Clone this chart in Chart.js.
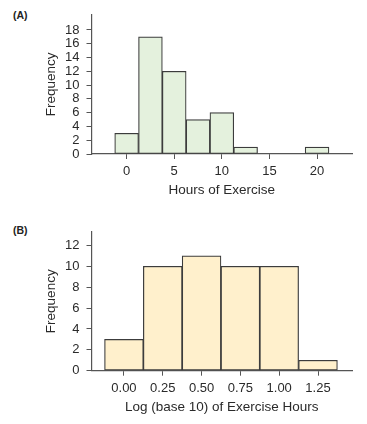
<!DOCTYPE html>
<html>
<head>
<meta charset="utf-8">
<script src="https://cdn.jsdelivr.net/npm/chart.js@4"></script>
<style>
    body { margin: 0; background: #fff; width: 367px; height: 424px; position: relative; overflow: hidden; font-family: 'Liberation Sans', Arial, sans-serif; }
    canvas { position: absolute; left: 0; }
    .tag { position: absolute; left: 13px; font-weight: bold; font-size: 10.5px; color: #222; }
</style>
</head>
<body>
<div class="tag" style="top: 9px">(A)</div>
<canvas id="chartA" width="367" height="212" style="top: 0"></canvas>
<div class="tag" style="top: 224px">(B)</div>
<canvas id="chartB" width="367" height="207" style="top: 217px"></canvas>
<script>
const hours_bins = [0, 2.5, 5, 7.5, 10, 12.5, 15, 17.5, 20];
const hours_freq = [3, 17, 12, 5, 6, 1, 0, 0, 1];
const hours_ticks = [0, 5, 10, 15, 20];
const hours_freq_ticks = [0, 2, 4, 6, 8, 10, 12, 14, 16, 18];

const log_bins = [0, 0.25, 0.5, 0.75, 1, 1.25];
const log_freq = [3, 10, 11, 10, 10, 1];
const log_ticks = [0, 0.25, 0.5, 0.75, 1, 1.25];
const log_freq_ticks = [0, 2, 4, 6, 8, 10, 12];

const axis_color = '#555';
const text_color = '#2a2a2a';
const font_family = "'Liberation Sans', Arial, sans-serif";

setHistogram('chartA', {
    bins: hours_bins, freq: hours_freq, xTicks: hours_ticks, yTicks: hours_freq_ticks,
    xLabel: v => String(v),
    xMin: -3.69, xMax: 23.67, yMax: 20.2,
    fill: '#e4f1dd', title: 'Hours of Exercise',
    top: 8, height: 212, bottom: 154, titleY: 190.7
});

setHistogram('chartB', {
    bins: log_bins, freq: log_freq, xTicks: log_ticks, yTicks: log_freq_ticks,
    xLabel: v => v.toFixed(2),
    xMin: -0.209, xMax: 1.469, yMax: 13.3,
    fill: '#fff0cc', title: 'Log (base 10) of Exercise Hours',
    top: 9.7, height: 207, bottom: 153.7, titleY: 190.7
});

function setHistogram(id, cfg) {
    let ctx = document.getElementById(id).getContext('2d');

    return new Chart(ctx, {
        type: 'bar',
        data: {
            datasets: [{
                data: cfg.bins.map((b, i) => ({x: b, y: cfg.freq[i]})),
                backgroundColor: cfg.fill,
                borderColor: '#3c3c3c',
                borderWidth: 1.2,
                borderSkipped: false,
                categoryPercentage: 1,
                barPercentage: 1
            }]
        },
        options: {
            responsive: false,
            animation: false,
            devicePixelRatio: 1,
            layout: { padding: { top: cfg.top, right: 15, left: 0, bottom: 0 } },
            plugins: { legend: { display: false }, tooltip: { enabled: false } },
            scales: {
                x: {
                    type: 'linear',
                    offset: false,
                    min: cfg.xMin,
                    max: cfg.xMax,
                    afterBuildTicks: s => { s.ticks = cfg.xTicks.map(v => ({value: v})); },
                    afterFit: s => { s.height = cfg.height - cfg.bottom; },
                    grid: { offset: false, drawOnChartArea: false, drawTicks: true, tickLength: 5, color: axis_color },
                    border: { color: axis_color, width: 1.2 },
                    ticks: {
                        autoSkip: false,
                        padding: 5,
                        color: text_color,
                        font: { family: font_family, size: 13 },
                        callback: v => cfg.xLabel(v),
                        maxRotation: 0
                    },
                    title: {
                        display: true,
                        text: cfg.title,
                        color: text_color,
                        font: { family: font_family, size: 13.5 },
                        padding: { top: 0, bottom: cfg.height - cfg.titleY - 8.1 }
                    }
                },
                y: {
                    min: 0,
                    max: cfg.yMax,
                    afterBuildTicks: s => { s.ticks = cfg.yTicks.map(v => ({value: v})); },
                    afterFit: s => { s.width = 91.5; },
                    grid: { drawOnChartArea: false, drawTicks: true, tickLength: 5, color: axis_color },
                    border: { color: axis_color, width: 1.2 },
                    ticks: {
                        autoSkip: false,
                        padding: 7,
                        color: text_color,
                        font: { family: font_family, size: 13 }
                    },
                    title: {
                        display: true,
                        text: 'Frequency',
                        color: text_color,
                        font: { family: font_family, size: 13.5 },
                        padding: { top: 43, bottom: 0 }
                    }
                }
            }
        }
    });
}
</script>
</body>
</html>
